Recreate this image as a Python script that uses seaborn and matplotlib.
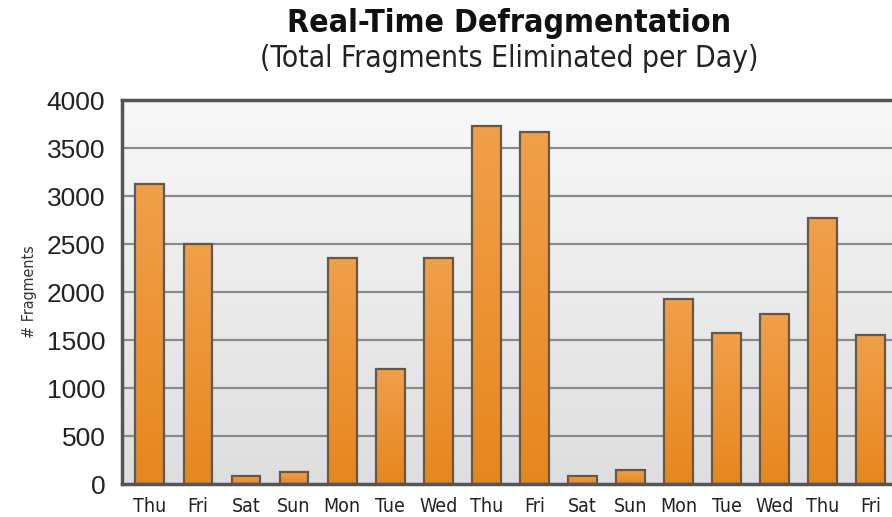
import numpy as np
import pandas as pd
import matplotlib
matplotlib.use("Agg")
import matplotlib.pyplot as plt
import seaborn as sns
from matplotlib.colors import LinearSegmentedColormap

# Data
days = ["Thu", "Fri", "Sat", "Sun", "Mon", "Tue", "Wed", "Thu",
        "Fri", "Sat", "Sun", "Mon", "Tue", "Wed", "Thu", "Fri"]
fragments = [3125, 2500, 80, 125, 2350, 1200, 2350, 3725,
             3670, 80, 145, 1930, 1570, 1770, 2770, 1550]
y_ticks = [0, 500, 1000, 1500, 2000, 2500, 3000, 3500, 4000]

sns.set_theme(style="white")
plt.rcParams["font.family"] = ["DejaVu Sans"]

df = pd.DataFrame({"idx": np.arange(len(days)), "frag": fragments})

fig = plt.figure(figsize=(8.92, 5.17), dpi=100)
ax = fig.add_axes([122 / 892, 33 / 517, 1 - 122 / 892, 384 / 517])

sns.barplot(data=df, x="idx", y="frag", ax=ax, width=0.6, color="#ec8f26",
            edgecolor="#5a5a5a", linewidth=1.6, zorder=3)

# background gradient
bg = LinearSegmentedColormap.from_list("bg", ["#dedede", "#f8f8f8"])
grad = np.linspace(0, 1, 256).reshape(-1, 1)
ax.imshow(grad, cmap=bg, aspect="auto", origin="lower",
          extent=(-0.58, 15.44, 0, 4000), zorder=0)

# orange gradient in each bar
bar_cmap = LinearSegmentedColormap.from_list("bar", ["#e8861e", "#f0a04a"])
for p in ax.patches:
    x0, y0 = p.get_x(), p.get_y()
    w, h = p.get_width(), p.get_height()
    ax.imshow(grad, cmap=bar_cmap, aspect="auto", origin="lower",
              extent=(x0, x0 + w, y0, y0 + h), zorder=2)
    p.set_facecolor("none")

ax.set_xlim(-0.58, 15.44)
ax.set_ylim(0, 4000)

for yv in y_ticks[1:-1]:
    ax.axhline(yv, color="#8a8a8a", linewidth=1.6, zorder=1)

ax.set_yticks(y_ticks)
ax.set_yticklabels([str(v) for v in y_ticks], fontsize=19,
                   family=["Liberation Sans", "DejaVu Sans"], color="#222222")
ax.set_xticks(range(len(days)))
ax.set_xticklabels(days, fontsize=14, fontstretch="condensed", color="#222222")
ax.tick_params(axis="both", length=0)
ax.tick_params(axis="y", pad=12)
ax.tick_params(axis="x", pad=9)

ax.set_xlabel("")
ax.set_ylabel("# Fragments", fontsize=11.5, fontstretch="condensed",
              color="#333333", labelpad=7)

for side in ["left", "top", "bottom"]:
    ax.spines[side].set_color("#555555")
    ax.spines[side].set_linewidth(2.5)
    ax.spines[side].set_zorder(5)
ax.spines["right"].set_visible(False)

fig.text(0.571, 0.955, "Real-Time Defragmentation", ha="center", va="center",
         fontsize=23, fontweight="bold", fontstretch="condensed", color="#111111")
fig.text(0.571, 0.887, "(Total Fragments Eliminated per Day)", ha="center", va="center",
         fontsize=21.5, fontstretch="condensed", color="#222222")

fig.savefig("out.png", dpi=100)
